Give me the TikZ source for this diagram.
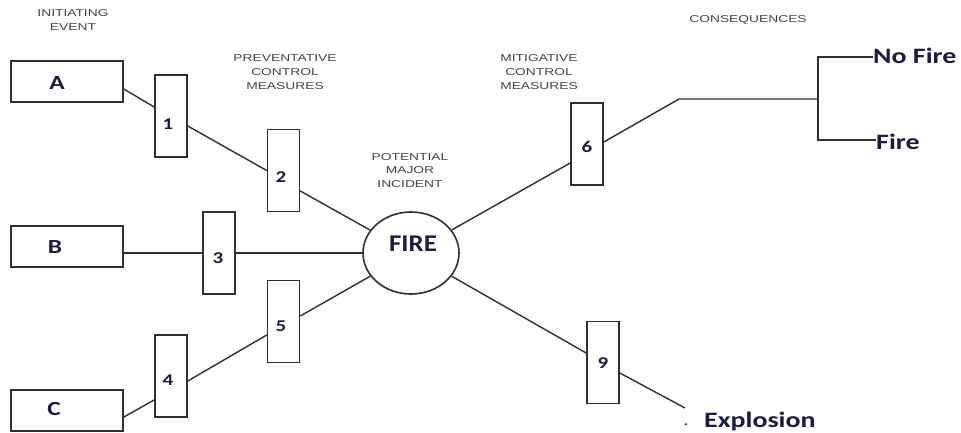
\documentclass[tikz,border=0pt]{standalone}
\usepackage{fontspec}
\usetikzlibrary{shapes.geometric,calc}
\newfontfamily\hdrfont[FakeStretch=1.38]{Liberation Sans}
\newfontfamily\lblfont[FakeStretch=1.27]{Carlito}
\newfontfamily\firefont[FakeStretch=1.12]{Carlito}
\definecolor{ink}{HTML}{1C1C3C}
\definecolor{hdrgray}{HTML}{444444}
\definecolor{edge}{HTML}{303030}
\begin{document}
\begin{tikzpicture}[x=1pt,y=-1pt,
  evbox/.style={draw=edge, line width=1.6pt, minimum width=112pt, minimum height=41pt, inner sep=0pt},
  ctrl/.style={draw=edge, line width=1.6pt, minimum width=32pt, minimum height=82pt, inner sep=0pt},
  conn/.style={draw=edge, line width=1.4pt},
  hdr/.style={font=\hdrfont\fontsize{10}{13.7}\selectfont, text=hdrgray, align=center, inner sep=0pt},
  num/.style={font=\lblfont\bfseries\fontsize{16.5}{16.5}\selectfont, text=ink, inner sep=0pt},
  evt/.style={font=\lblfont\bfseries\fontsize{20}{20}\selectfont, text=ink, inner sep=0pt},
  outc/.style={font=\lblfont\bfseries\fontsize{22}{22}\selectfont, text=ink, inner sep=0pt}]
\useasboundingbox (0,0) rectangle (961,432);
\fill[white] (0,0) rectangle (961,432);

% headers
\node[hdr] (h1) at (73,20) {INITIATING\\EVENT};
\node[hdr] (h2) at (285,72) {PREVENTATIVE\\CONTROL\\MEASURES};
\node[hdr] (h3) at (410,170.5) {POTENTIAL\\MAJOR\\INCIDENT};
\node[hdr] (h4) at (539,72) {MITIGATIVE\\CONTROL\\MEASURES};
\node[hdr] (h5) at (748,19.5) {CONSEQUENCES};

% initiating events
\node[evbox] (A) at (67,81.5) {};
\node[evbox] (B) at (67,246.5) {};
\node[evbox] (C) at (67,410.5) {};
\node[evt] (tA) at (57,83) {A};
\node[evt] (tB) at (55,247) {B};
\node[evt] (tC) at (54,409) {C};

% control measures
\node[ctrl] (b1) at (171,116) {};
\node[ctrl] (b2) at (283.5,170.5) {};
\node[ctrl] (b3) at (219,253) {};
\node[ctrl] (b4) at (171,376) {};
\node[ctrl] (b5) at (283.5,321.5) {};
\node[ctrl] (b6) at (587,144) {};
\node[ctrl] (b9) at (603,362.5) {};
\node[num] (t1) at (168,124) {1};
\node[num] (t2) at (281,177) {2};
\node[num] (t3) at (218,258) {3};
\node[num] (t4) at (168,380) {4};
\node[num] (t5) at (281,326) {5};
\node[num] (t6) at (587,147) {6};
\node[num] (t9) at (603,363) {9};

% potential major incident
\node[ellipse, draw=edge, line width=1.6pt, minimum width=96pt, minimum height=82pt, inner sep=0pt] (fire) at (411,253) {};
\node[font=\firefont\bfseries\fontsize{24}{24}\selectfont, text=ink, inner sep=0pt] (firetxt) at (413,244) {FIRE};

% consequences
\coordinate (j1) at (679,99);
\coordinate (j2) at (818,99);
\coordinate (jt) at (818,57);
\coordinate (jb) at (818,140);
\coordinate (xend) at (685,408);
\node[outc, anchor=west] (nf) at (873,56) {No Fire};
\node[outc, anchor=west] (fi) at (876,142) {Fire};
\node[outc, anchor=base west] (ex) at (704,427) {Explosion};
\node[font=\lblfont\bfseries\fontsize{12}{12}\selectfont, text=ink, inner sep=0pt, anchor=base] (dot) at (686,425) {.};

% connectors
\draw[conn] ([yshift=-7.5]A.east) -- ([yshift=9]b1.west);
\draw[conn] ([yshift=-10]b1.east) -- (b2.west);
\draw[conn] ([yshift=-20.5]b2.east) -- (fire);
\draw[conn] ([yshift=-6.5]B.east) -- (b3.west);
\draw[conn] (b3.east) -- (fire);
\draw[conn] ([yshift=-6.5]C.east) -- ([yshift=-24]b4.west);
\draw[conn] ([yshift=-5]b4.east) -- ([yshift=-13.5]b5.west);
\draw[conn] ([yshift=5.5]b5.east) -- (fire);
\draw[conn] (fire) -- ([yshift=-19]b6.west);
\draw[conn] ([yshift=2]b6.east) -- (j1) -- (j2);
\draw[conn] (jt -| nf.west) -- (jt) -- (jb) -- (jb -| fi.west);
\draw[conn] (fire) -- ([yshift=9.5]b9.west);
\draw[conn] ([yshift=-10.5]b9.east) -- (xend);
\end{tikzpicture}
\end{document}
